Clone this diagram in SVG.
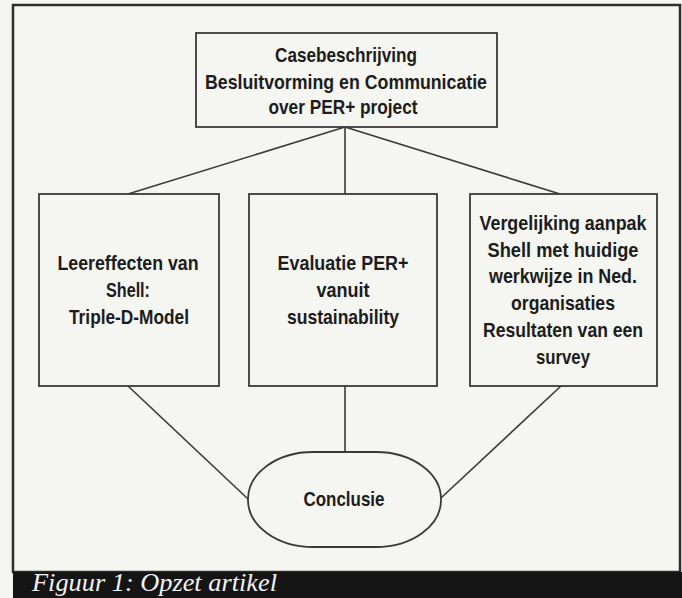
<svg xmlns="http://www.w3.org/2000/svg" width="682" height="598" viewBox="0 0 682 598">
<style>
.box{fill:#f5f5f1;stroke:#3a3a3a;stroke-width:1.8}
.con{stroke:#3a3a3a;stroke-width:1.6;fill:none}
.t{font-family:"Liberation Sans",Arial,sans-serif;font-weight:bold;font-size:21px;fill:#1c1c1c;text-anchor:middle}
.cap{font-family:"Liberation Serif","Times New Roman",serif;font-style:italic;font-size:25px;fill:#f2f2f2}
</style>
<rect x="0" y="0" width="682" height="598" fill="#f5f5f1"/>
<rect id="frame" x="13" y="5" width="667" height="567" fill="#f5f5f1" stroke="#2e2e2e" stroke-width="2.5"/>
<g id="connectors">
<line class="con" x1="345" y1="127" x2="128" y2="194"/>
<line class="con" x1="345" y1="127" x2="345" y2="194"/>
<line class="con" x1="345" y1="127" x2="560" y2="194"/>
<line class="con" x1="128" y1="386" x2="248" y2="499"/>
<line class="con" x1="345" y1="386" x2="345" y2="452"/>
<line class="con" x1="561" y1="386" x2="441" y2="498"/>
</g>
<g id="top">
<rect class="box" x="196" y="33" width="301" height="94"/>
<text class="t" x="346" y="62" textLength="142" lengthAdjust="spacingAndGlyphs">Casebeschrijving</text>
<text class="t" x="346" y="89" textLength="282" lengthAdjust="spacingAndGlyphs">Besluitvorming en Communicatie</text>
<text class="t" x="343" y="114" textLength="149" lengthAdjust="spacingAndGlyphs">over PER+ project</text>
</g>
<g id="left">
<rect class="box" x="39" y="194" width="180" height="192"/>
<text class="t" x="128" y="270" textLength="141" lengthAdjust="spacingAndGlyphs">Leereffecten van</text>
<text class="t" x="128" y="297" textLength="44" lengthAdjust="spacingAndGlyphs">Shell:</text>
<text class="t" x="129" y="324" textLength="120" lengthAdjust="spacingAndGlyphs">Triple-D-Model</text>
</g>
<g id="middle">
<rect class="box" x="249" y="194" width="188" height="192"/>
<text class="t" x="343" y="270" textLength="131" lengthAdjust="spacingAndGlyphs">Evaluatie PER+</text>
<text class="t" x="343" y="297" textLength="53" lengthAdjust="spacingAndGlyphs">vanuit</text>
<text class="t" x="343" y="324" textLength="112" lengthAdjust="spacingAndGlyphs">sustainability</text>
</g>
<g id="right">
<rect class="box" x="470" y="194" width="187" height="192"/>
<text class="t" x="563" y="230" textLength="167" lengthAdjust="spacingAndGlyphs">Vergelijking aanpak</text>
<text class="t" x="563" y="257" textLength="151" lengthAdjust="spacingAndGlyphs">Shell met huidige</text>
<text class="t" x="563" y="283" textLength="148" lengthAdjust="spacingAndGlyphs">werkwijze in Ned.</text>
<text class="t" x="563" y="310" textLength="104" lengthAdjust="spacingAndGlyphs">organisaties</text>
<text class="t" x="563" y="337" textLength="160" lengthAdjust="spacingAndGlyphs">Resultaten van een</text>
<text class="t" x="563" y="364" textLength="54" lengthAdjust="spacingAndGlyphs">survey</text>
</g>
<g id="conclusie">
<rect class="box" x="248" y="452" width="193" height="95" rx="65" ry="47"/>
<text class="t" x="344" y="506" textLength="81" lengthAdjust="spacingAndGlyphs">Conclusie</text>
</g>
<rect x="13" y="572" width="669" height="26" fill="#151515"/>
<text class="cap" x="32" y="591" textLength="245" lengthAdjust="spacingAndGlyphs">Figuur 1: Opzet artikel</text>
</svg>
